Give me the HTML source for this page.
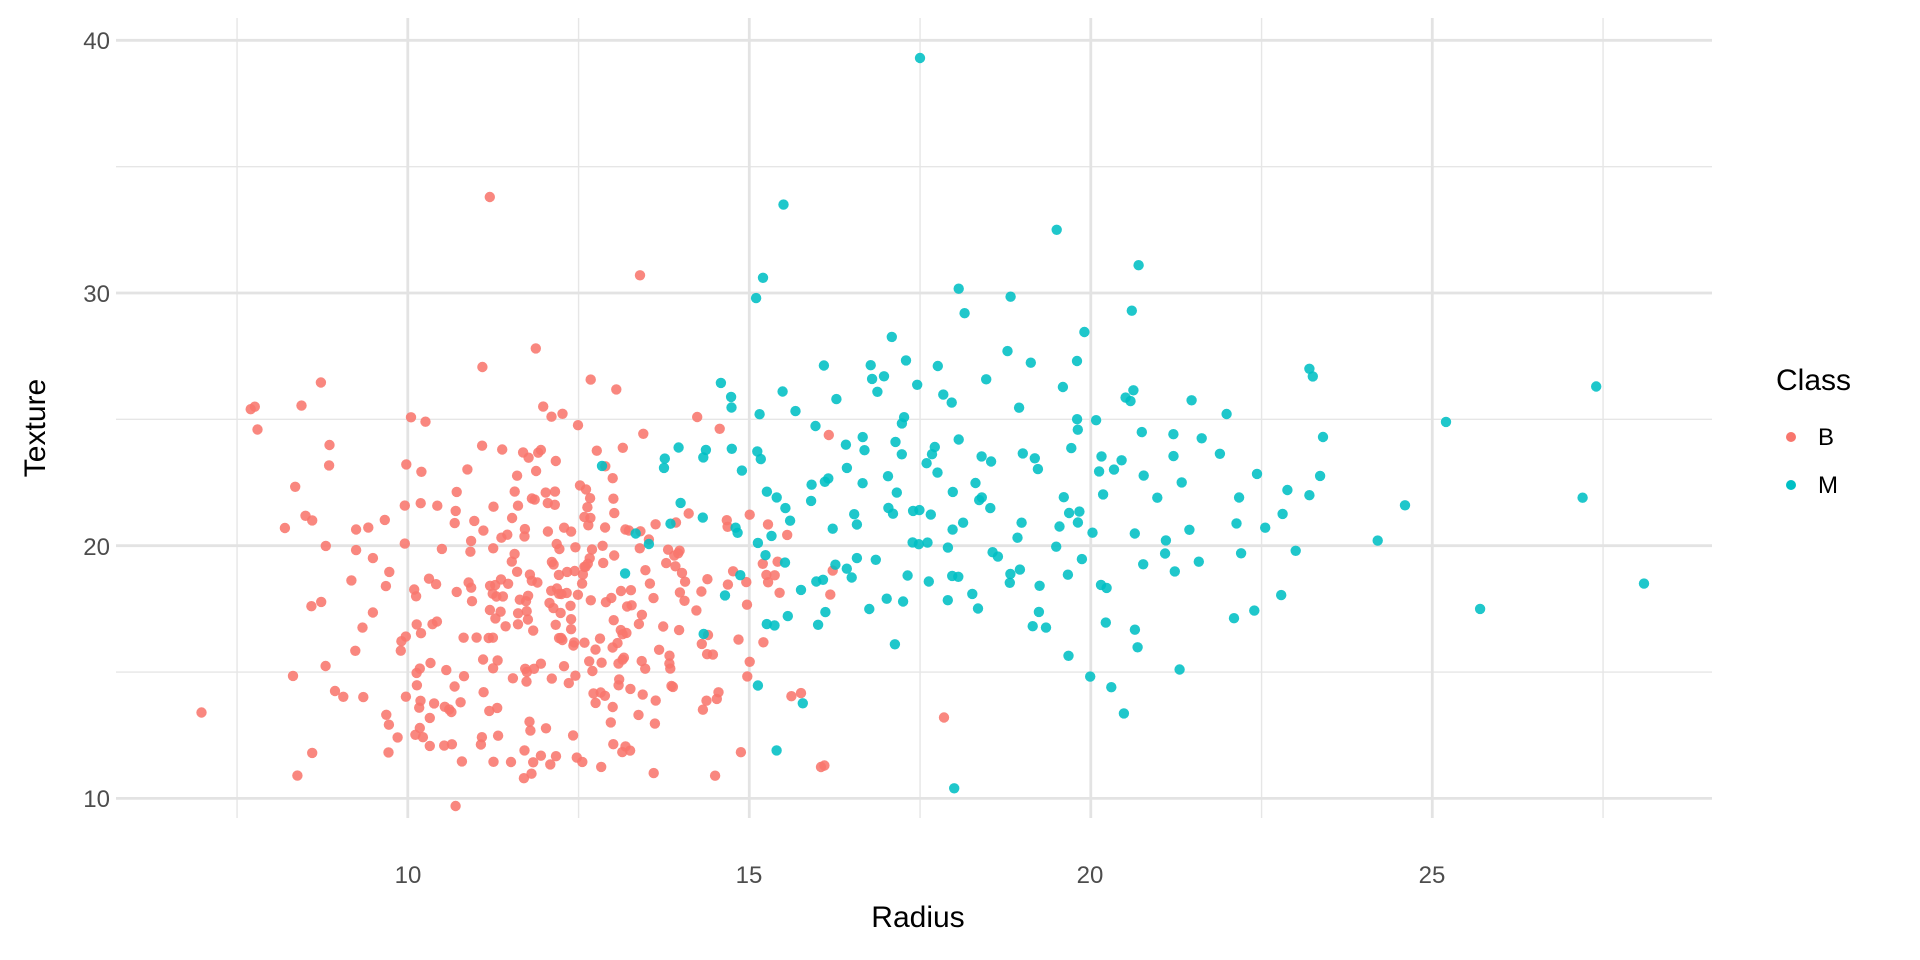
<!DOCTYPE html>
<html><head><meta charset="utf-8"><style>
html,body{margin:0;padding:0;background:#fff;}
svg{display:block;font-family:"Liberation Sans",sans-serif;}
</style></head><body>
<svg id="s" width="1920" height="960" xmlns="http://www.w3.org/2000/svg">
<rect width="1920" height="960" fill="#fff"/>
<g id="grid"></g>
<g id="pts"></g>
<g font-size="24" fill="#4d4d4d">
<text x="110" y="49" text-anchor="end">40</text>
<text x="110" y="302" text-anchor="end">30</text>
<text x="110" y="555" text-anchor="end">20</text>
<text x="110" y="807" text-anchor="end">10</text>
<text x="408" y="883" text-anchor="middle">10</text>
<text x="749" y="883" text-anchor="middle">15</text>
<text x="1090" y="883" text-anchor="middle">20</text>
<text x="1432" y="883" text-anchor="middle">25</text>
</g>
<text x="918" y="927" font-size="30" text-anchor="middle" fill="#000">Radius</text>
<text transform="translate(45,428) rotate(-90)" font-size="30" text-anchor="middle" fill="#000">Texture</text>
<text x="1776" y="390" font-size="30" fill="#000">Class</text>
<circle cx="1791" cy="437" r="5" fill="#F8766D"/>
<circle cx="1791" cy="485" r="5" fill="#00BFC4"/>
<text x="1818" y="445" font-size="24" fill="#000">B</text>
<text x="1818" y="493" font-size="24" fill="#000">M</text>
</svg>
<script>
function X(v){return 407.8+(v-10)*68.3;}
function Y(v){return 798.4-(v-10)*25.27;}
var g=document.getElementById("grid"),h="";
var L=116,R=1712,T=18,B=818;
[7.5,12.5,17.5,22.5,27.5].forEach(function(v){h+='<line x1="'+X(v)+'" x2="'+X(v)+'" y1="'+T+'" y2="'+B+'" stroke="#e6e6e6" stroke-width="1.4"/>';});
[15,25,35].forEach(function(v){h+='<line y1="'+Y(v)+'" y2="'+Y(v)+'" x1="'+L+'" x2="'+R+'" stroke="#e6e6e6" stroke-width="1.4"/>';});
[10,15,20,25].forEach(function(v){h+='<line x1="'+X(v)+'" x2="'+X(v)+'" y1="'+T+'" y2="'+B+'" stroke="#e3e3e3" stroke-width="2.8"/>';});
[10,20,30,40].forEach(function(v){h+='<line y1="'+Y(v)+'" y2="'+Y(v)+'" x1="'+L+'" x2="'+R+'" stroke="#e3e3e3" stroke-width="2.8"/>';});
g.innerHTML=h;
var seed=777;function rnd(){seed=(seed*1103515245+12345)%2147483648;return seed/2147483648;}
function gn(){var u=rnd()||1e-9,v=rnd();return Math.sqrt(-2*Math.log(u))*Math.cos(2*Math.PI*v);}
var p="";
function pt(x,y,c){p+='<circle cx="'+X(x).toFixed(1)+'" cy="'+Y(y).toFixed(1)+'" r="5.2" fill="'+c+'" fill-opacity="0.88"/>';}
var CB="#F8766D",CM="#00BFC4";
for(var i=0;i<345;i++){var x=12.3+1.65*gn(),y=17.6+3.5*gn();if(x<8.3)x=8.3+rnd();if(x>16.3)x=14+rnd()*2;if(y<10.8)y=11+rnd()*2;if(y>29.5)y=22+rnd()*6;pt(x,y,CB);}
[[6.98,13.4],[7.76,25.5],[7.7,25.4],[7.8,24.6],[11.2,33.8],[13.4,30.7],[10.7,9.7],[11.7,10.8],[14.5,10.9],[13.6,11],[17.85,13.2],[16.1,11.3],[8.2,20.7],[8.6,21],[8.6,11.8]].forEach(function(a){pt(a[0],a[1],CB);});
for(var i=0;i<195;i++){var x=17.6+2.7*gn(),y=21.7+3.5*gn();if(x<12.5)x=13.5+rnd()*2;if(x>23.5)x=17+rnd()*6;if(y<13)y=16+rnd()*4;if(y>31)y=24+rnd()*4;pt(x,y,CM);}
[[17.5,39.3],[15.5,33.5],[19.5,32.5],[20.7,31.1],[15.2,30.6],[15.1,29.8],[20.6,29.3],[27.4,26.3],[28.1,18.5],[27.2,21.9],[25.7,17.5],[25.2,24.9],[24.6,21.6],[24.2,20.2],[23.2,27],[23.25,26.7],[23.4,24.3],[23.2,22],[23,19.8],[18,10.4],[15.4,11.9],[22.2,19.7],[21.3,15.1],[20.3,14.4]].forEach(function(a){pt(a[0],a[1],CM);});
document.getElementById("pts").innerHTML=p;
</script>
</body></html>
